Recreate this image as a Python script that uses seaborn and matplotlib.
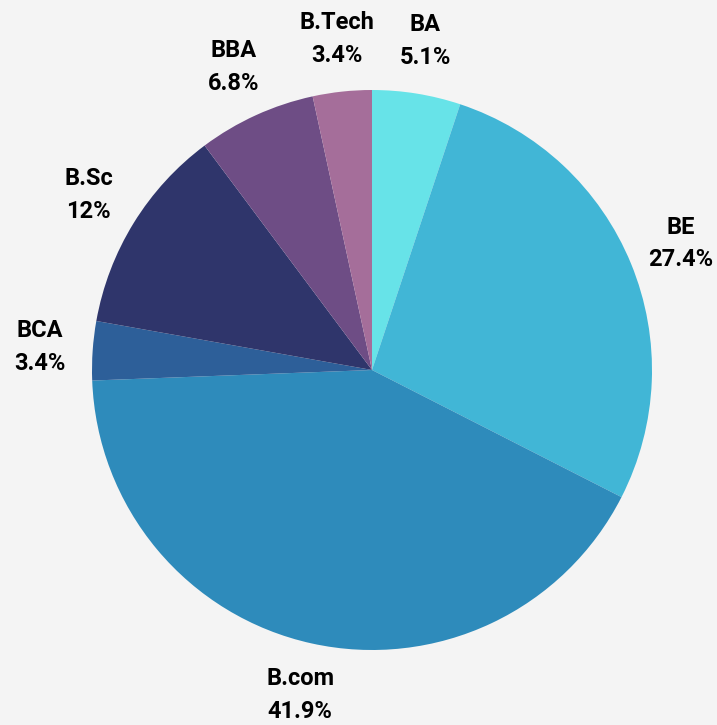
import matplotlib.pyplot as plt
import seaborn as sns

# Slices, clockwise from 12 o'clock
programs = ["BA", "BE", "B.com", "BCA", "B.Sc", "BBA", "B.Tech"]
shares = [5.1, 27.4, 41.9, 3.4, 12.0, 6.8, 3.4]
share_labels = ["5.1%", "27.4%", "41.9%", "3.4%", "12%", "6.8%", "3.4%"]

colors = ["#67e3e8", "#41b6d6", "#2e8bbb", "#2d5f99", "#2f356b", "#6e4d85", "#a56e9a"]
BG = "#f4f4f4"

sns.set_theme(style="white")
plt.rcParams["font.family"] = ["Roboto", "DejaVu Sans"]

fig = plt.figure(figsize=(7.17, 7.25), dpi=100, facecolor=BG)
ax = fig.add_axes([0, 0, 1, 1])
ax.set_facecolor(BG)

labels = [f"{p}\n{s}" for p, s in zip(programs, share_labels)]
wedges, texts = ax.pie(
    shares,
    labels=labels,
    colors=colors,
    startangle=90,
    counterclock=False,
    radius=1.0,
    labeldistance=1.19,
    wedgeprops=dict(linewidth=0),
    textprops=dict(fontsize=17, fontweight="bold", color="#000000",
                   linespacing=1.55),
)
for t in texts:
    t.set_ha("center")
    t.set_va("center")

# pie centre at (372, 370) px from top-left, radius 280 px
ax.set_xlim(-372 / 280, (717 - 372) / 280)
ax.set_ylim(-(725 - 370) / 280, 370 / 280)
ax.set_aspect("auto")
ax.axis("off")

fig.savefig("out.png", dpi=100, facecolor=BG)
